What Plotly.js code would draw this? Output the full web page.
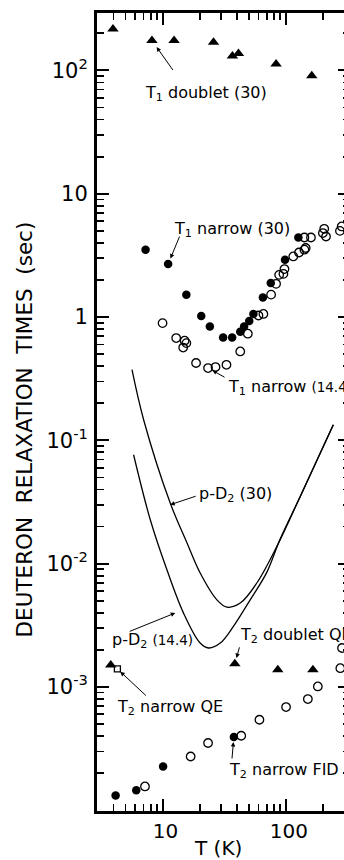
<!DOCTYPE html>
<html>
<head>
<meta charset="utf-8">
<script src="https://cdn.plot.ly/plotly-3.0.1.min.js"></script>
<style>
html,body{margin:0;padding:0;background:#fff;overflow:hidden;width:344px;height:860px;}
#chart{width:352px;height:860px;}
</style>
</head>
<body>
<div id="chart"></div>
<script>
// ---- data (temperature in K, relaxation time in s) ----
var t1DoubletT = [3.96, 8.2, 12.4, 25.9, 36.9, 41.3, 83.4, 162.5];
var t1DoubletV = [217, 175, 175, 169, 131, 137, 113, 90.6];

var t1Narrow30T = [7.28, 11.1, 15.6, 20.6, 24.2, 31.0, 36.7, 42.7, 45.9, 50.5, 54.6, 65.2, 75.5, 98.6, 126.5];
var t1Narrow30V = [3.51, 2.69, 1.52, 1.02, 0.84, 0.684, 0.684, 0.76, 0.84, 0.93, 1.06, 1.44, 1.89, 2.92, 4.42];

var t1Narrow144T = [10, 12.9, 14.7, 15.1, 15.6, 18.7, 23.4, 26.9, 33.0, 42.7, 49.2, 60, 65.8, 76, 83.4, 88.3, 95.7, 97.5, 115, 128, 141.6, 145, 141.6, 160, 200, 205, 212, 275, 284];
var t1Narrow144V = [0.893, 0.676, 0.566, 0.643, 0.615, 0.424, 0.386, 0.393, 0.41, 0.526, 0.733, 1.03, 1.06, 1.52, 1.86, 2.20, 2.24, 2.45, 3.10, 3.34, 3.52, 3.63, 4.42, 4.42, 4.8, 5.2, 4.5, 5.0, 5.43];

var pD2_30T = [5.65, 7.02, 11.54, 15.8, 20.2, 27.6, 33.3, 42.7, 58.2, 84.5, 131, 243];
var pD2_30V = [0.374, 0.147, 0.031, 0.0147, 0.00839, 0.00509, 0.00444, 0.00479, 0.00697, 0.01377, 0.0351, 0.134];

var pD2_144T = [5.82, 7.95, 10.85, 14.8, 20.2, 23.6, 29.4, 37.6, 51.4, 70.1, 89.9, 131, 243];
var pD2_144V = [0.0764, 0.0227, 0.00891, 0.00397, 0.00227, 0.00207, 0.00227, 0.0031, 0.00509, 0.0085, 0.0158, 0.0351, 0.134];

var t2DoubletT = [3.8, 38.6, 86.1, 166];
var t2DoubletV = [1.51e-3, 1.54e-3, 1.38e-3, 1.38e-3];

var t2NarrowQET = [4.3];
var t2NarrowQEV = [1.40e-3];

var t2FidFilledT = [4.16, 6.12, 10.1, 37.9];
var t2FidFilledV = [1.32e-4, 1.45e-4, 2.26e-4, 3.93e-4];

var t2FidOpenT = [7.2, 16.9, 23.4, 43.5, 61.1, 100.5, 151, 182, 277, 286];
var t2FidOpenV = [1.56e-4, 2.73e-4, 3.51e-4, 4.02e-4, 5.42e-4, 6.87e-4, 7.98e-4, 1.01e-3, 1.42e-3, 2.07e-3];

var xTickVals = [10, 100];
var xTickText = ['10', '100'];
var xMinorTicks = [4, 5, 6, 7, 8, 9, 20, 30, 40, 50, 60, 70, 80, 90, 200, 300];
var yTickVals = [1e-3, 1e-2, 1e-1, 1, 10, 100];
var yTickText = ['10<sup>-3</sup>', '10<sup>-2</sup>', '10<sup>-1</sup>', '1', '10', '10<sup>2</sup>'];
var yMinorTicks = [2e-4, 3e-4, 4e-4, 5e-4, 6e-4, 7e-4, 8e-4, 9e-4,
  2e-3, 3e-3, 4e-3, 5e-3, 6e-3, 7e-3, 8e-3, 9e-3,
  0.02, 0.03, 0.04, 0.05, 0.06, 0.07, 0.08, 0.09,
  0.2, 0.3, 0.4, 0.5, 0.6, 0.7, 0.8, 0.9,
  2, 3, 4, 5, 6, 7, 8, 9,
  20, 30, 40, 50, 60, 70, 80, 90, 200];

// ---- traces ----
var ink = '#000';
function filled(x, y, sym, size) {
  return {x: x, y: y, type: 'scatter', mode: 'markers',
    marker: {symbol: sym, size: size, color: ink, line: {width: 0}}, hoverinfo: 'skip'};
}
function openM(x, y, sym, size) {
  return {x: x, y: y, type: 'scatter', mode: 'markers',
    marker: {symbol: sym, size: size, color: ink, line: {width: 1.3, color: ink}}, hoverinfo: 'skip'};
}
function curve(x, y) {
  return {x: x, y: y, type: 'scatter', mode: 'lines', line: {color: ink, width: 1.3, shape: 'spline', smoothing: 1.0}, hoverinfo: 'skip'};
}

var data = [
  curve(pD2_30T, pD2_30V),
  curve(pD2_144T, pD2_144V),
  filled(t1DoubletT, t1DoubletV, 'triangle-up', 10),
  openM(t1Narrow144T, t1Narrow144V, 'circle-open', 8.5),
  filled(t1Narrow30T, t1Narrow30V, 'circle', 8.5),
  filled(t2DoubletT, t2DoubletV, 'triangle-up', 10),
  openM(t2NarrowQET, t2NarrowQEV, 'square-open', 6),
  openM(t2FidOpenT, t2FidOpenV, 'circle-open', 8.5),
  filled(t2FidFilledT, t2FidFilledV, 'circle', 8.5)
];

var L = Math.log10;
var FAM = 'DejaVu Sans, Arial, sans-serif';
var fnt = {family: FAM, size: 16, color: ink};
function label(text, lx, ly) {
  return {text: text, x: lx, y: ly, xref: 'x', yref: 'y', showarrow: false,
    xanchor: 'left', yanchor: 'middle', font: fnt};
}
function arrow(tx, ty, ax, ay, standoff) {
  return {text: '', x: L(tx), y: L(ty), xref: 'x', yref: 'y', showarrow: true,
    ax: ax, ay: ay, arrowhead: 2, arrowsize: 0.9, arrowwidth: 1, arrowcolor: ink, standoff: standoff};
}
var small = function (s) { return '<span style="font-size:13.5px">' + s + '</span>'; };

var annotations = [
  label('T<sub>1</sub> doublet (30)', 0.844, 1.811),
  arrow(t1DoubletT[1], t1DoubletV[1], 22, 31, 8),
  label('T<sub>1</sub> narrow (30)', 1.079, 0.708),
  arrow(t1Narrow30T[1], t1Narrow30V[1], 12, -29, 6),
  label('T<sub>1</sub> narrow ' + small('(14.4)'), 1.515, -0.573),
  arrow(t1Narrow144T[6], t1Narrow144V[6], 18, 10, 5),
  label('p-D<sub>2</sub> (30)', 1.281, -1.441),
  {text: '', x: 1.062, y: -1.522, xref: 'x', yref: 'y', showarrow: true, ax: 27, ay: -9,
    arrowhead: 2, arrowsize: 0.9, arrowwidth: 1, arrowcolor: ink},
  label('p-D<sub>2</sub> ' + small('(14.4)'), 0.576, -2.625),
  {text: '', x: 1.103, y: -2.40, xref: 'x', yref: 'y', showarrow: true, ax: -47, ay: 19,
    arrowhead: 2, arrowsize: 0.9, arrowwidth: 1, arrowcolor: ink},
  label('T<sub>2</sub> doublet QE', 1.613, -2.585),
  arrow(t2DoubletT[1], t2DoubletV[1], 5, -18, 6),
  label('T<sub>2</sub> narrow QE', 0.617, -3.169),
  arrow(t2NarrowQET[0], t2NarrowQEV[0], 30, 28, 4),
  label('T<sub>2</sub> narrow FID', 1.524, -3.680),
  arrow(t2FidFilledT[3], t2FidFilledV[3], -2, 23, 5),
  {text: 'DEUTERON&nbsp; RELAXATION&nbsp; TIMES&nbsp; (sec)', xref: 'paper', yref: 'paper',
    x: -0.285, y: 0.478, textangle: -90, showarrow: false, xanchor: 'center', yanchor: 'middle',
    font: {family: FAM, size: 21.5, color: ink}},
  {text: 'T (K)', xref: 'paper', yref: 'paper', x: 0.478, y: -0.046, showarrow: false,
    xanchor: 'center', yanchor: 'middle', font: {family: FAM, size: 20, color: ink}}
];

function axis(range, vals, text, minorVals, extra) {
  return Object.assign({
    type: 'log', range: range, showline: true, linewidth: 3, linecolor: ink, mirror: 'allticks',
    ticks: 'inside', ticklen: 12, tickwidth: 2, tickcolor: ink,
    showgrid: false, zeroline: false, tickmode: 'array', tickvals: vals, ticktext: text,
    minor: {tickmode: 'array', tickvals: minorVals, ticks: 'inside', ticklen: 7, tickwidth: 1.8,
      tickcolor: ink, showgrid: false}
  }, extra);
}

var layout = {
  width: 352, height: 860,
  margin: {l: 97, r: 2, t: 13, b: 49},
  paper_bgcolor: '#fff', plot_bgcolor: '#fff',
  showlegend: false,
  xaxis: axis([0.468, 2.521], xTickVals, xTickText, xMinorTicks,
    {tickfont: {family: FAM, size: 20, color: ink}, ticklabelstandoff: 0, ticklabelshift: 3}),
  yaxis: axis([-4.006, 2.466], yTickVals, yTickText, yMinorTicks,
    {tickfont: {family: FAM, size: 21, color: ink}, ticklabelstandoff: 2}),
  annotations: annotations
};

Plotly.newPlot('chart', data, layout, {staticPlot: true, displayModeBar: false});
</script>
</body>
</html>
